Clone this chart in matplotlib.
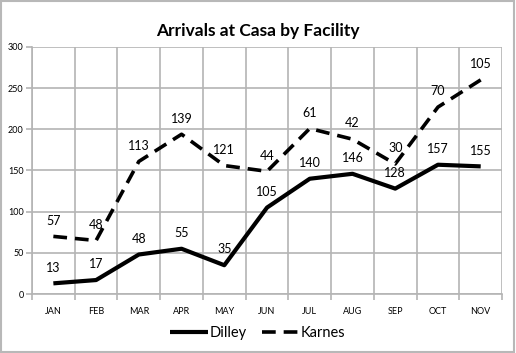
import numpy as np
import matplotlib.pyplot as plt
from matplotlib.patches import Rectangle

# --- data ---
months = ['JAN', 'FEB', 'MAR', 'APR', 'MAY', 'JUN', 'JUL', 'AUG', 'SEP', 'OCT', 'NOV']
dilley = [13, 17, 48, 55, 35, 105, 140, 146, 128, 157, 155]
karnes = [57, 48, 113, 139, 121, 44, 61, 42, 30, 70, 105]

# stacked line: Karnes drawn on top of Dilley
karnes_top = np.array(dilley) + np.array(karnes)
x = np.arange(len(months))

plt.rcParams['font.family'] = ['Lato', 'DejaVu Sans']

fig = plt.figure(figsize=(5.16, 3.53), dpi=100)
ax = fig.add_axes([0.062, 0.167, 0.911, 0.70])

grid_c = '#b4b4b4'

ax.plot(x, dilley, color='black', lw=3.0, solid_capstyle='butt', label='Dilley', zorder=3)
ax.plot(x, karnes_top, color='black', lw=2.6, dashes=(3.8, 2.2), label='Karnes', zorder=3)

for xi, v in zip(x, dilley):
    ax.annotate(str(v), (xi, v), xytext=(0, 7), textcoords='offset points',
                ha='center', va='bottom', fontsize=9)
for xi, v, lab in zip(x, karnes_top, karnes):
    ax.annotate(str(lab), (xi, v), xytext=(0, 7), textcoords='offset points',
                ha='center', va='bottom', fontsize=9)

ax.set_xlim(-0.5, len(months) - 0.5)
ax.set_ylim(0, 300)
ax.set_yticks(range(0, 301, 50))
ax.set_xticks(x)
ax.set_xticklabels(months, fontsize=6.5)
ax.set_xticks(np.arange(-0.5, len(months)), minor=True)
ax.tick_params(axis='x', which='major', length=0, pad=9)
ax.tick_params(axis='x', which='minor', length=4, color=grid_c, width=1.2)
ax.tick_params(axis='y', labelsize=6.5, length=4, color=grid_c, width=1.2, pad=2)

ax.grid(True, axis='y', color=grid_c, lw=1.2)
ax.grid(True, axis='x', which='minor', color=grid_c, lw=1.2)
ax.set_axisbelow(True)
for side in ['top', 'right']:
    ax.spines[side].set_visible(False)
for side in ['left', 'bottom']:
    ax.spines[side].set_color(grid_c)
    ax.spines[side].set_linewidth(1.2)

fig.suptitle('Arrivals at Casa by Facility', fontsize=12.5, fontweight='bold', y=0.935)

fig.legend(loc='center', bbox_to_anchor=(0.5, 0.057), ncol=2, frameon=False,
           fontsize=10.5, handlelength=2.6, handletextpad=0.1, columnspacing=1.0)

fig.patches.append(Rectangle((0.002, 0.003), 0.995, 0.993, transform=fig.transFigure,
                             fill=False, edgecolor='#b8b8b8', lw=1.5))

fig.savefig('out.png', dpi=100)
